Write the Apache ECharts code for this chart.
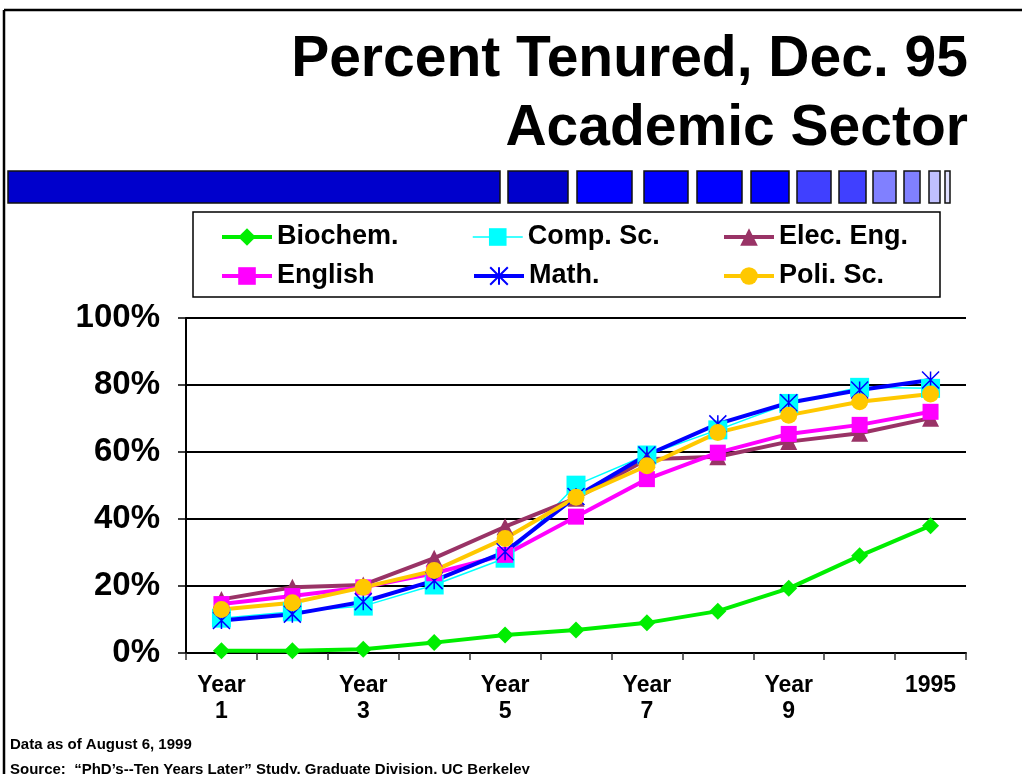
<!DOCTYPE html>
<html><head><meta charset="utf-8">
<script src="https://cdn.jsdelivr.net/npm/echarts@6/dist/echarts.min.js"></script>
<style>html,body{margin:0;padding:0;background:#fff}#c{width:1022px;height:774px}</style>
</head><body><div id="c"></div>
<script>
const categories = ['Year\n1','Year\n2','Year\n3','Year\n4','Year\n5','Year\n6','Year\n7','Year\n8','Year\n9','Year\n10','1995'];
const seriesNames = ['Biochem.','Comp. Sc.','Elec. Eng.','English','Math.','Poli. Sc.'];
const biochem = [0.7,0.7,1.1,3.1,5.4,6.9,9.0,12.5,19.3,29.0,38.0];
const compSc  = [10.4,12.3,14.0,20.3,28.3,50.1,59.1,66.6,74.5,79.3,79.0];
const elecEng = [16.0,19.6,20.3,28.3,37.7,46.2,57.8,58.6,63.1,65.6,70.1];
const english = [14.6,17.0,19.6,23.8,29.3,40.7,51.9,59.8,65.4,68.1,72.0];
const math    = [9.7,11.6,15.3,21.6,30.2,46.7,59.1,68.4,74.7,78.5,81.5];
const poliSc  = [13.0,15.0,19.6,24.6,34.2,46.5,55.9,65.8,71.0,75.0,77.3];
const titleLines = ['Percent Tenured, Dec. 95','Academic Sector'];
const footnotes = ['Data as of August 6, 1999','Source:  \u201CPhD\u2019s--Ten Years Later\u201D Study, Graduate Division, UC Berkeley'];

const FONT = '"Liberation Sans", Arial, sans-serif';
const chart = echarts.init(document.getElementById('c'), null, {renderer:'canvas'});

const asterisk = 'path://M0,0L10,10M10,0L0,10M5,0L5,10';

// decorative banner segments [x0,x1,color]
const banner = [[8,500,'#0000CC'],[508,568,'#0000CC'],[577,632,'#0000FF'],[644,688,'#0000FF'],[697,742,'#0000FF'],[751,789,'#0000FF'],[797,831,'#4040FF'],[839,866,'#4040FF'],[873,896,'#8080FF'],[904,920,'#8080FF'],[929,940,'#C0C0FF'],[945,950,'#E0E0FF']];

const graphics = [
  {type:'line', shape:{x1:4,y1:10,x2:1022,y2:10}, style:{stroke:'#000',lineWidth:2.5}},
  {type:'line', shape:{x1:4,y1:10,x2:4,y2:774}, style:{stroke:'#000',lineWidth:2.5}},
  {type:'text', right:54, top:32, style:{text:titleLines[0], font:'bold 57px '+FONT, fill:'#000'}},
  {type:'text', right:54, top:101, style:{text:titleLines[1], font:'bold 57px '+FONT, fill:'#000'}},
  {type:'rect', shape:{x:193,y:212,width:747,height:85}, style:{fill:'none',stroke:'#000',lineWidth:1.5}},
  {type:'text', left:10, top:737, style:{text:footnotes[0], font:'bold 15px '+FONT, fill:'#000'}},
  {type:'text', left:10, top:762, style:{text:footnotes[1], font:'bold 15px '+FONT, fill:'#000'}}
];
banner.forEach(b => graphics.push({type:'rect', shape:{x:b[0],y:171,width:b[1]-b[0],height:32}, style:{fill:b[2],stroke:'#111',lineWidth:1.5}}));

const legendPos = [[220,222],[472,222],[722,222],[220,261],[472,261],[722,261]];
const legendLW = [4,1.5,4,4,4,4];
const legends = seriesNames.map((n,i)=>({
  data:[n], left:legendPos[i][0], top:legendPos[i][1], padding:0, itemGap:0,
  itemWidth:50, itemHeight:22,
  lineStyle:{width:legendLW[i]},
  textStyle:{fontFamily:FONT, fontWeight:'bold', fontSize:27, color:'#000', lineHeight:30}
}));

function mk(name, data, color, symbol, size, lw, extra){
  return Object.assign({
    name, type:'line', data, symbol, symbolSize:size,
    lineStyle:{color, width:lw}, itemStyle:{color}, showSymbol:true, animation:false
  }, extra||{});
}

chart.setOption({
  animation:false,
  backgroundColor:'#fff',
  graphic: graphics,
  legend: legends,
  grid:{left:186, right:56, top:318, bottom:121, containLabel:false},
  xAxis:{
    type:'category', data:categories, boundaryGap:true,
    axisLine:{lineStyle:{color:'#000', width:2}},
    axisTick:{show:true, interval:0, length:7, lineStyle:{color:'#333', width:1.5}},
    axisLabel:{interval:1, fontFamily:FONT, fontWeight:'bold', fontSize:23, lineHeight:26, color:'#000', margin:20},
    splitLine:{show:false}
  },
  yAxis:{
    type:'value', min:0, max:100, interval:20,
    axisLine:{show:true, lineStyle:{color:'#000', width:2}},
    axisTick:{show:true, length:8, lineStyle:{color:'#000', width:1.5}},
    axisLabel:{formatter:'{value}%', fontFamily:FONT, fontWeight:'bold', fontSize:33, color:'#000', margin:26},
    splitLine:{show:true, lineStyle:{color:'#000', width:2}}
  },
  series:[
    mk(seriesNames[0], biochem, '#00EE00', 'diamond', 17, 4),
    mk(seriesNames[1], compSc, '#00FFFF', 'rect', 19, 1.5),
    mk(seriesNames[2], elecEng, '#993366', 'triangle', 17, 4),
    mk(seriesNames[3], english, '#FF00FF', 'rect', 16, 4),
    mk(seriesNames[4], math, '#0000FF', asterisk, 17, 4, {itemStyle:{color:'#0000FF', borderColor:'#0000FF', borderWidth:1.5}}),
    mk(seriesNames[5], poliSc, '#FFC800', 'circle', 17, 4)
  ]
});
</script></body></html>
